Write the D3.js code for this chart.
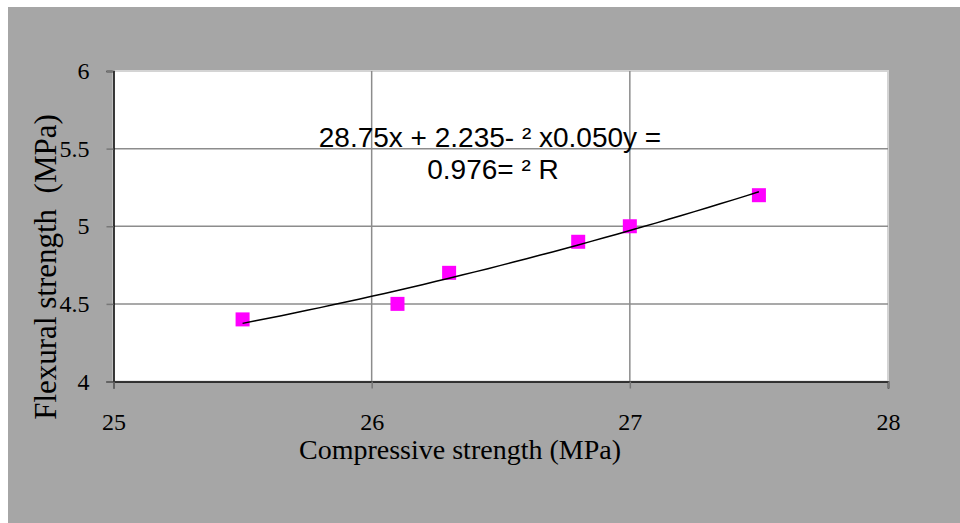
<!DOCTYPE html>
<html>
<head>
<meta charset="utf-8">
<script src="https://cdn.jsdelivr.net/npm/d3@7"></script>
<style>
  html, body { margin: 0; padding: 0; background: #fff; }
  svg { display: block; }
</style>
</head>
<body>
<div id="chart"></div>
<script>
// data
var compressive = [25.5, 26.1, 26.3, 26.8, 27.0, 27.5];
var flexural = [4.4, 4.5, 4.7, 4.9, 5.0, 5.2];
var xTicks = [25, 26, 27, 28];
var yTicks = [4, 4.5, 5, 5.5, 6];
var equationLines = ['28.75x + 2.235- \u00b2 x0.050y =', '0.976= \u00b2 R'];

var width = 960, height = 523;
var margin = {top: 71, right: 72, bottom: 141.5, left: 113.5};

var svg = d3.select('#chart').append('svg')
  .attr('width', width)
  .attr('height', height);

// grey chart background
svg.append('rect')
  .attr('x', 8).attr('y', 7)
  .attr('width', width - 8).attr('height', height - 7)
  .attr('fill', '#a6a6a6');

var x = d3.scaleLinear().domain([25, 28]).range([margin.left, width - margin.right]);
var y = d3.scaleLinear().domain([4, 6]).range([height - margin.bottom, margin.top]);

// plot area
svg.append('rect')
  .attr('x', x(25)).attr('y', y(6))
  .attr('width', x(28) - x(25)).attr('height', y(4) - y(6))
  .attr('fill', '#fff')
  .attr('stroke', '#d4d4d4')
  .attr('stroke-width', 2);

// gridlines
svg.append('g').selectAll('line')
  .data(yTicks.filter(function(d) { return d > 4 && d < 6; }))
  .enter().append('line')
    .attr('x1', x(25)).attr('x2', x(28))
    .attr('y1', function(d) { return y(d); })
    .attr('y2', function(d) { return y(d); })
    .attr('stroke', '#8c8c8c')
    .attr('stroke-width', 1.5);

svg.append('g').selectAll('line')
  .data(xTicks.filter(function(d) { return d > 25 && d < 28; }))
  .enter().append('line')
    .attr('y1', y(4)).attr('y2', y(6))
    .attr('x1', function(d) { return x(d); })
    .attr('x2', function(d) { return x(d); })
    .attr('stroke', '#8c8c8c')
    .attr('stroke-width', 1.5);

// axes
var yAxis = d3.axisLeft(y).tickValues(yTicks).tickSize(7).tickPadding(17)
  .tickFormat(function(d) { return d; });
var xAxis = d3.axisBottom(x).tickValues(xTicks).tickSize(7).tickPadding(24)
  .tickFormat(function(d) { return d; });

var gy = svg.append('g').attr('transform', 'translate(' + x(25) + ',0)').call(yAxis);
var gx = svg.append('g').attr('transform', 'translate(0,' + y(4) + ')').call(xAxis);

[gx, gy].forEach(function(g) {
  g.select('.domain').attr('stroke', '#000').attr('stroke-width', 1.5);
  g.selectAll('.tick line').attr('stroke', '#777').attr('stroke-width', 1.5);
  g.selectAll('.tick text')
    .attr('fill', '#000')
    .style('font-family', '"Liberation Serif", "Times New Roman", serif')
    .style('font-size', '24px');
});

// least squares quadratic trendline
function polyFit(xs, ys) {
  var n = xs.length, s = [0, 0, 0, 0, 0], t = [0, 0, 0];
  for (var i = 0; i < n; i++) {
    for (var k = 0; k < 5; k++) s[k] += Math.pow(xs[i], k);
    for (var k2 = 0; k2 < 3; k2++) t[k2] += ys[i] * Math.pow(xs[i], k2);
  }
  var A = [[s[0], s[1], s[2], t[0]], [s[1], s[2], s[3], t[1]], [s[2], s[3], s[4], t[2]]];
  for (var c = 0; c < 3; c++) {
    for (var r = c + 1; r < 3; r++) {
      var f = A[r][c] / A[c][c];
      for (var j = c; j < 4; j++) A[r][j] -= f * A[c][j];
    }
  }
  var b = [0, 0, 0];
  for (var r2 = 2; r2 >= 0; r2--) {
    var sum = A[r2][3];
    for (var j2 = r2 + 1; j2 < 3; j2++) sum -= A[r2][j2] * b[j2];
    b[r2] = sum / A[r2][r2];
  }
  return b;
}
var coef = polyFit(compressive, flexural);
var fitX = d3.range(0, 41).map(function(i) {
  return d3.min(compressive) + i * (d3.max(compressive) - d3.min(compressive)) / 40;
});
var line = d3.line()
  .x(function(d) { return x(d); })
  .y(function(d) { return y(coef[0] + coef[1] * d + coef[2] * d * d); });

// points
var size = 14;
svg.append('g').selectAll('rect')
  .data(compressive)
  .enter().append('rect')
    .attr('x', function(d) { return x(d) - size / 2; })
    .attr('y', function(d, i) { return y(flexural[i]) - size / 2; })
    .attr('width', size).attr('height', size)
    .attr('fill', '#ff00ff');

svg.append('path')
  .datum(fitX)
  .attr('d', line)
  .attr('fill', 'none')
  .attr('stroke', '#000')
  .attr('stroke-width', 1.5);

// equation label
svg.append('g').selectAll('text')
  .data(equationLines)
  .enter().append('text')
    .attr('x', function(d, i) { return i === 0 ? 490 : 493; })
    .attr('y', function(d, i) { return 147 + i * 32; })
    .attr('text-anchor', 'middle')
    .style('font-family', '"Liberation Sans", Arial, sans-serif')
    .style('font-size', '28px')
    .text(function(d) { return d; });

// axis titles
svg.append('text')
  .attr('x', 460).attr('y', 459)
  .attr('text-anchor', 'middle')
  .style('font-family', '"Liberation Serif", "Times New Roman", serif')
  .style('font-size', '28px')
  .text('Compressive strength (MPa)');

svg.append('text')
  .attr('transform', 'translate(56,267) rotate(-90)')
  .attr('text-anchor', 'middle')
  .style('font-family', '"Liberation Serif", "Times New Roman", serif')
  .style('font-size', '31px')
  .style('white-space', 'pre')
  .text('Flexural strength  (MPa)');
</script>
</body>
</html>
